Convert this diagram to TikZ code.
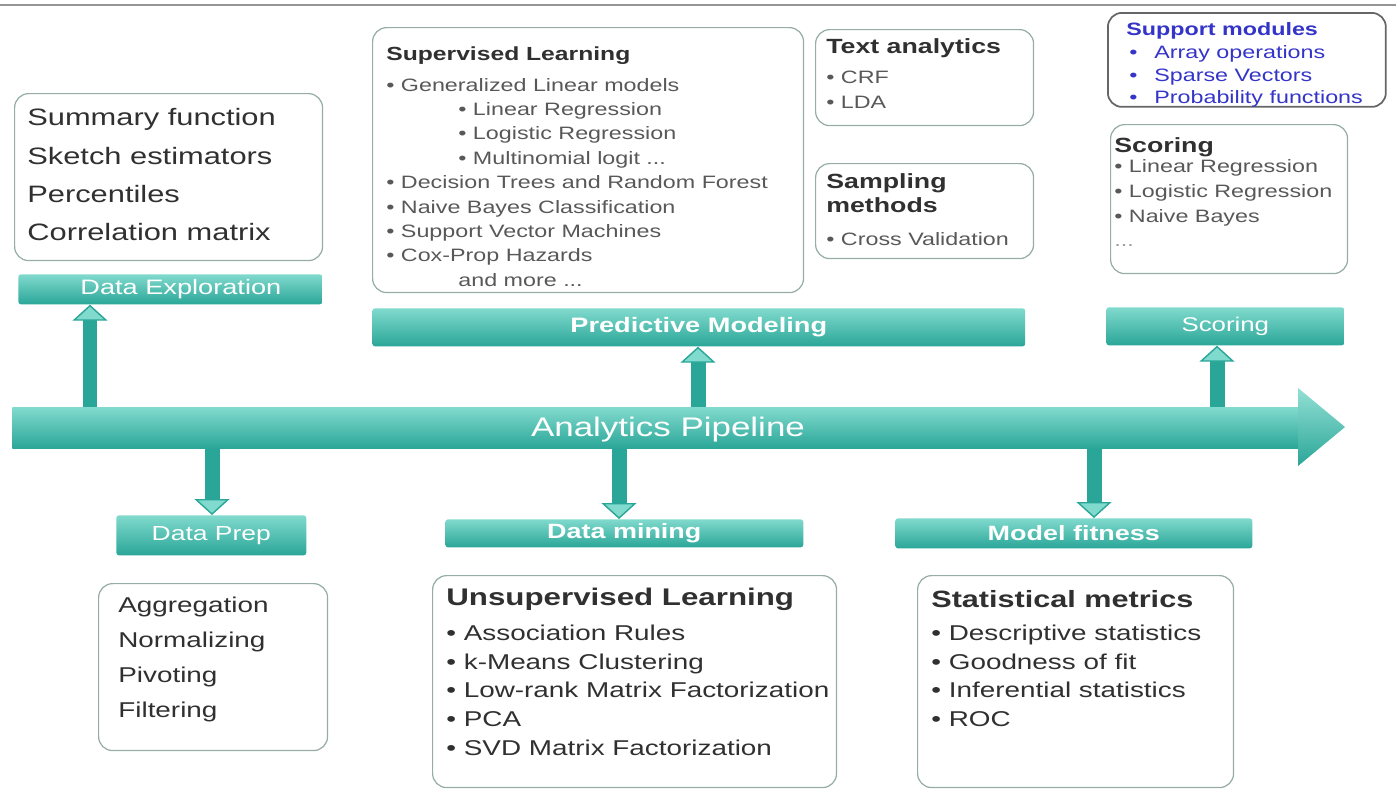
\documentclass[tikz,border=0pt]{standalone}
\usepackage{fontspec}
\setmainfont{Liberation Sans}[FakeStretch=1.3]
\usetikzlibrary{arrows.meta}

\definecolor{tealL}{RGB}{128,218,205}
\definecolor{tealD}{RGB}{42,166,152}
\definecolor{boxline}{RGB}{150,172,168}
\definecolor{txtdark}{RGB}{48,48,48}
\definecolor{txtgray}{RGB}{88,88,88}
\definecolor{modblue}{RGB}{52,52,200}
\definecolor{topline}{RGB}{150,150,150}

\newcommand\setfs[2]{\fontsize{#1}{#2}\selectfont}

\tikzset{
  panel/.style={draw=boxline, line width=0.7pt, rounded corners=8pt, anchor=north west, inner sep=0pt},
  bar/.style={top color=tealL, bottom color=tealD, rounded corners=1.5pt, anchor=north west, inner sep=0pt, text=white},
  listtxt/.style={anchor=north west, inner sep=0pt, align=left, text=txtgray},
  blkarrow/.style={draw=tealD, line width=0.3cm, -{Triangle[length=0.32cm, width=0.7cm, fill=tealL, line width=0.8pt]}},
}

\begin{document}
\begin{tikzpicture}[x=0.02cm, y=-0.02cm]
  \useasboundingbox (0,0) rectangle (1396,789);
  \draw[topline, line width=1.2pt] (0,5) -- (1396,5);

  % pipeline
  \node[bar, rounded corners=0pt, minimum width=25.72cm, minimum height=0.82cm] (pipe) at (12,407) {};
  \shade[top color=tealL!85!white, bottom color=tealD] (pipe.north east) -- (1298,388) -- (1345,427) -- (1298,466) -- (pipe.south east) -- cycle;
  \node[text=white, font=\setfs{15.3}{18}] (pipetxt) at (668,430) {Analytics Pipeline};

  % upper bars and boxes
  \node[bar, minimum width=6.08cm, minimum height=0.60cm, font=\setfs{11.9}{14}] (explbar) at (18,274) {\hspace*{12pt}Data Exploration};
  \node[bar, minimum width=13.06cm, minimum height=0.76cm, font=\setfs{11.9}{14}\bfseries] (predbar) at (372,308) {Predictive Modeling};
  \node[bar, minimum width=4.76cm, minimum height=0.76cm, font=\setfs{11.3}{14}] (scorbar) at (1106,307) {Scoring};

  \node[panel, minimum width=6.16cm, minimum height=3.34cm] (explbox) at (14,93) {};
  \node[listtxt, text=txtdark, font=\setfs{13.5}{21.9}] (expltxt) at (27,108)
    {Summary function\\ Sketch estimators\\ Percentiles\\ Correlation matrix};

  \node[panel, minimum width=8.62cm, minimum height=5.30cm] (suplbox) at (372,27) {};
  \node[listtxt, font=\setfs{10.2}{13.9}] (supltxt) at (386,46)
    {{\color{txtdark}\setfs{10.8}{13.9}\bfseries Supervised Learning}\\[3.7pt]
     • Generalized Linear models\\
     \hspace*{41pt}• Linear Regression\\
     \hspace*{41pt}• Logistic Regression\\
     \hspace*{41pt}• Multinomial logit ...\\
     • Decision Trees and Random Forest\\
     • Naive Bayes Classification\\
     • Support Vector Machines\\
     • Cox-Prop Hazards\\
     \hspace*{41pt}and more ...};

  \node[panel, minimum width=4.36cm, minimum height=1.92cm] (textbox) at (815,29) {};
  \node[listtxt, font=\setfs{10.2}{14.2}] (texttxt) at (826,38)
    {{\color{txtdark}\setfs{11.7}{14.2}\bfseries Text analytics}\\[2.8pt]
     • CRF\\ • LDA};

  \node[panel, minimum width=4.36cm, minimum height=1.90cm] (sampbox) at (815,163) {};
  \node[listtxt, font=\setfs{10.2}{13.6}] (samptxt) at (826,173)
    {{\color{txtdark}\setfs{11.7}{13.6}\bfseries Sampling}\\
     {\color{txtdark}\setfs{11.7}{13.6}\bfseries methods}\\[5.1pt]
     • Cross Validation};

  \node[panel, draw=black!60, line width=1pt, minimum width=5.56cm, minimum height=1.88cm] (suppbox) at (1107,12) {};
  \node[listtxt, text=modblue, font=\setfs{10.2}{13}] (supptxt) at (1126,22)
    {{\bfseries Support modules}\\
     \hspace*{1.7pt}•\hspace{9.6pt}Array operations\\
     \hspace*{1.7pt}•\hspace{9.6pt}Sparse Vectors\\
     \hspace*{1.7pt}•\hspace{9.6pt}Probability functions};

  \node[panel, minimum width=4.74cm, minimum height=2.98cm] (scorbox) at (1110,124) {};
  \node[listtxt, font=\setfs{10.2}{14.2}] (scortxt) at (1114,137)
    {{\color{txtdark}\setfs{11.7}{14.2}\bfseries Scoring}\\[-2.9pt]
     • Linear Regression\\
     • Logistic Regression\\
     • Naive Bayes\\
     {\color{txtgray!60}...}};

  % lower bars and boxes
  \node[bar, minimum width=3.80cm, minimum height=0.80cm, font=\setfs{11.6}{14}] (prepbar) at (116,515) {Data Prep};
  \node[bar, minimum width=7.16cm, minimum height=0.56cm, font=\setfs{11.8}{14}\bfseries] (minebar) at (445,519) {Data mining};
  \node[bar, minimum width=7.14cm, minimum height=0.60cm, font=\setfs{11.8}{14}\bfseries] (fitbar) at (895,518) {Model fitness};

  \node[panel, minimum width=4.58cm, minimum height=3.34cm] (prepbox) at (98,583) {};
  \node[listtxt, text=txtdark, font=\setfs{12.2}{19.8}] (preptxt) at (118,597)
    {Aggregation\\ Normalizing\\ Pivoting\\ Filtering};

  \node[panel, minimum width=8.08cm, minimum height=4.24cm] (unsupbox) at (432,575) {};
  \node[listtxt, text=txtdark, font=\setfs{12.2}{16.3}] (unsuptxt) at (446,588)
    {{\setfs{13.7}{16.3}\bfseries Unsupervised Learning}\\[3.5pt]
     • Association Rules\\
     • k-Means Clustering\\
     • Low-rank Matrix Factorization\\
     • PCA\\
     • SVD Matrix Factorization};

  \node[panel, minimum width=6.32cm, minimum height=4.24cm] (statbox) at (917,575) {};
  \node[listtxt, text=txtdark, font=\setfs{12.2}{16.4}] (stattxt) at (931,590)
    {{\setfs{13.4}{16.4}\bfseries Statistical metrics}\\[2.3pt]
     • Descriptive statistics\\
     • Goodness of fit\\
     • Inferential statistics\\
     • ROC};

  % arrows off the pipeline
  \coordinate (explx) at (90,0);
  \coordinate (predx) at (698,0);
  \coordinate (scorx) at (1217,0);
  \coordinate (prepx) at (212,0);
  \coordinate (minex) at (619,0);
  \coordinate (fitx) at (1094,0);
  \draw[blkarrow] (pipe.north -| explx) -- (explbar.south -| explx);
  \draw[blkarrow] (pipe.north -| predx) -- (predbar.south -| predx);
  \draw[blkarrow] (pipe.north -| scorx) -- (scorbar.south -| scorx);
  \draw[blkarrow] (pipe.south -| prepx) -- (prepbar.north -| prepx);
  \draw[blkarrow] (pipe.south -| minex) -- (minebar.north -| minex);
  \draw[blkarrow] (pipe.south -| fitx) -- (fitbar.north -| fitx);
\end{tikzpicture}
\end{document}
